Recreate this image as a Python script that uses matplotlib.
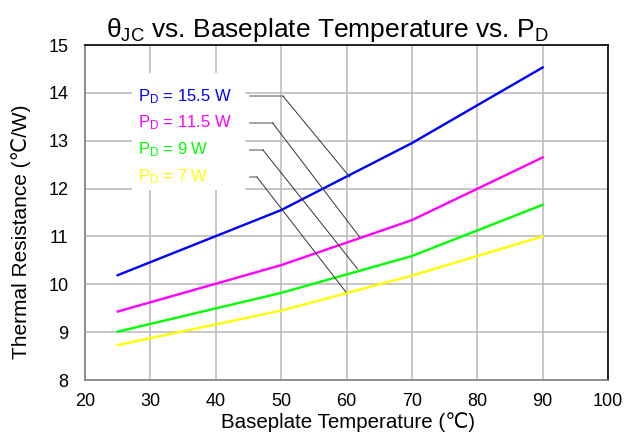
import matplotlib

matplotlib.use("Agg")
import matplotlib.pyplot as plt
from matplotlib.patches import Rectangle

plt.rcParams["font.family"] = ["Liberation Sans", "DejaVu Sans"]
plt.rcParams["mathtext.fontset"] = "custom"
plt.rcParams["mathtext.rm"] = "Liberation Sans"

# baseplate temperature (°C)
temps = [25, 50, 70, 90]

# theta_JC (°C/W) per dissipated power
theta_15_5w = [10.19, 11.55, 12.95, 14.53]
theta_11_5w = [9.43, 10.40, 11.34, 12.65]
theta_9w = [9.01, 9.82, 10.59, 11.66]
theta_7w = [8.73, 9.45, 10.18, 11.00]

series_labels = ["15.5 W", "11.5 W", "9 W", "7 W"]
x_ticks = [20, 30, 40, 50, 60, 70, 80, 90, 100]
y_ticks = [8, 9, 10, 11, 12, 13, 14, 15]

series = [theta_15_5w, theta_11_5w, theta_9w, theta_7w]
colors = ["#0000FF", "#FF00FF", "#00FF00", "#FFFF00"]

fig = plt.figure(figsize=(6.26, 4.36), dpi=100)
ax = fig.add_axes([85 / 626, 1 - 380 / 436, 523 / 626, 335 / 436])

for values, color in zip(series, colors):
    ax.plot(temps, values, color=color, linewidth=1.7, zorder=3)

ax.set_xlim(20, 100)
ax.set_ylim(8, 15)
ax.set_xticks(x_ticks)
ax.set_yticks(y_ticks)
ax.tick_params(length=0, labelsize=13)
ax.tick_params(axis="x", pad=9)
ax.tick_params(axis="y", pad=12)
ax.grid(True, color="#bdbdbd", linewidth=1.2, zorder=0)
ax.set_axisbelow(True)

for side in ("left", "bottom"):
    ax.spines[side].set_color("#7f7f7f")
    ax.spines[side].set_linewidth(1.2)
for side in ("top", "right"):
    ax.spines[side].set_color("black")
    ax.spines[side].set_linewidth(1.2)

ax.set_xlabel("Baseplate Temperature (\u2103)", fontsize=14.8)
ax.xaxis.set_label_coords(0.503, -0.095)
ax.set_ylabel("Thermal Resistance (\u2103/W)", fontsize=15)
ax.yaxis.set_label_coords(-0.103, 0.443)

fig.text(
    327 / 626,
    1 - 37 / 436,
    r"$\mathregular{\theta_{JC}}$ vs. Baseplate Temperature vs. $\mathregular{P_D}$",
    fontsize=19,
    ha="center",
    va="baseline",
)

# white box behind the labels, covering the grid
ax.add_patch(Rectangle((27.2, 11.97), 17.3, 2.44, facecolor="white",
                       edgecolor="none", zorder=1))

label_y = [13.93, 13.37, 12.81, 12.24]
corner_x = [50.3, 48.7, 47.2, 46.3]
end_pts = [(60.5, 12.24), (62.0, 10.99), (61.7, 10.32), (59.9, 9.84)]

for name, color, ly, cx, (ex, ey) in zip(series_labels, colors, label_y, corner_x, end_pts):
    ax.text(28.1, ly, r"$\mathregular{P_D}$ = " + name, color=color,
            fontsize=12, va="center", ha="left", zorder=4)
    ax.plot([45.2, cx], [ly, ly], color="#8c8c8c", linewidth=1.1, zorder=4)
    ax.plot([cx, ex], [ly, ey], color="#333333", linewidth=0.7, zorder=4)

fig.savefig("out.png", dpi=100)
